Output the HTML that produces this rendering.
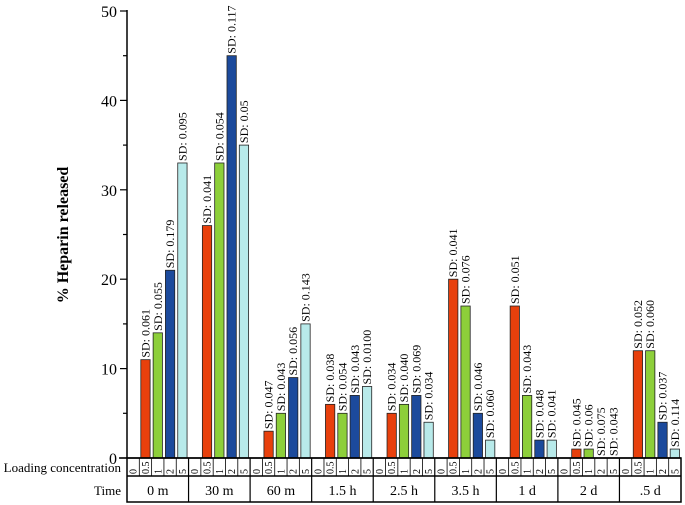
<!DOCTYPE html>
<html><head><meta charset="utf-8"><style>
body{margin:0;background:#fff;width:685px;height:505px;overflow:hidden}
svg{display:block}
</style></head><body>
<svg id="chart" width="685" height="505" xmlns="http://www.w3.org/2000/svg"></svg>
<script>
const timeLabels=["0 m","30 m","60 m","1.5 h","2.5 h","3.5 h","1 d","2 d",".5 d"];
const concLabels=["0","0.5","1","2","5"];
const colors=["#ffffff","#e8400c","#8dcf3a","#1c4a9c","#b8eaea"];
const values=[
[0,11,14,21,33],[0,26,33,45,35],[0,3,5,9,15],[0,6,5,7,8],[0,5,6,7,4],
[0,20,17,5,2],[0,17,7,2,2],[0,1,1,0,0],[0,12,12,4,1]];
const sds=[
["","0.061","0.055","0.179","0.095"],["","0.041","0.054","0.117","0.05"],
["","0.047","0.043","0.056","0.143"],["","0.038","0.054","0.043","0.0100"],
["","0.034","0.040","0.069","0.034"],["","0.041","0.076","0.046","0.060"],
["","0.051","0.043","0.048","0.041"],["","0.045","0.06","0.075","0.043"],
["","0.052","0.060","0.037","0.114"]];
const yTicks=[0,10,20,30,40,50];
const svg=document.getElementById('chart');
const NS="http://www.w3.org/2000/svg";
const X0=127,X1=681,Y0=458,Y50=11;
const gw=(X1-X0)/timeLabels.length, sw=gw/5;
const y=v=>Y0-(Y0-Y50)*v/50;
function mk(t,a,txt){const e=document.createElementNS(NS,t);for(const k in a)e.setAttribute(k,a[k]);if(txt!==undefined)e.textContent=txt;svg.appendChild(e);return e;}
let ax=mk('line',{x1:X0,y1:Y50-1,x2:X0,y2:Y0,stroke:'#000','stroke-width':1.5});

for(let v=0;v<=50;v+=5){mk('line',{x1:X0-(v%10?4:7),y1:y(v),x2:X0,y2:y(v),stroke:'#000','stroke-width':1.2});}
yTicks.forEach(v=>{const t=mk('text',{x:X0-10,y:y(v)+6,'text-anchor':'end','font-family':'Liberation Serif, serif','font-size':16},String(v));
});
const yt=mk('text',{x:0,y:0,transform:'translate(68,235) rotate(-90)','text-anchor':'middle','font-family':'Liberation Serif, serif','font-size':16,'font-weight':'bold'},'% Heparin released');

values.forEach((g,gi)=>{g.forEach((v,ci)=>{
 const bx=X0+gi*gw+ci*sw+1.5;
 if(v>0){const r=mk('rect',{x:bx,y:y(v),width:sw-3,height:Y0-y(v),fill:colors[ci],stroke:'#222','stroke-width':0.8});
 }
 if(sds[gi][ci]){const cx=bx+(sw-3)/2+4,ty=y(v)-2;
 const t=mk('text',{x:0,y:0,transform:`translate(${cx},${ty}) rotate(-90)`,'font-family':'Liberation Serif, serif','font-size':12},'SD: '+sds[gi][ci]);
 }
});});
mk('line',{x1:X0-8,y1:Y0,x2:X1,y2:Y0,stroke:'#000','stroke-width':1.5});
mk('rect',{x:X0,y:Y0,width:X1-X0,height:44,fill:'none',stroke:'#000','stroke-width':1.5});
mk('line',{x1:X0,y1:476,x2:X1,y2:476,stroke:'#000','stroke-width':1.5});
timeLabels.forEach((tl,gi)=>{
 const gx=X0+gi*gw;
 if(gi>0)mk('line',{x1:gx,y1:Y0,x2:gx,y2:502,stroke:'#000','stroke-width':1.2});
 for(let ci=0;ci<5;ci++){const sx=gx+ci*sw;
  if(ci>0)mk('line',{x1:sx,y1:Y0,x2:sx,y2:476,stroke:'#000','stroke-width':0.8});
  const t=mk('text',{x:0,y:0,transform:`translate(${sx+sw/2+3.5},474) rotate(-90)`,'font-family':'Liberation Serif, serif','font-size':10},concLabels[ci]);
  }
 const t=mk('text',{x:gx+gw/2,y:495,'text-anchor':'middle','font-family':'Liberation Serif, serif','font-size':14},tl);
 
});
const l1=mk('text',{x:121,y:472,'text-anchor':'end','font-family':'Liberation Serif, serif','font-size':13},'Loading concentration');

const l2=mk('text',{x:121,y:495,'text-anchor':'end','font-family':'Liberation Serif, serif','font-size':13},'Time');

</script>
</body></html>
